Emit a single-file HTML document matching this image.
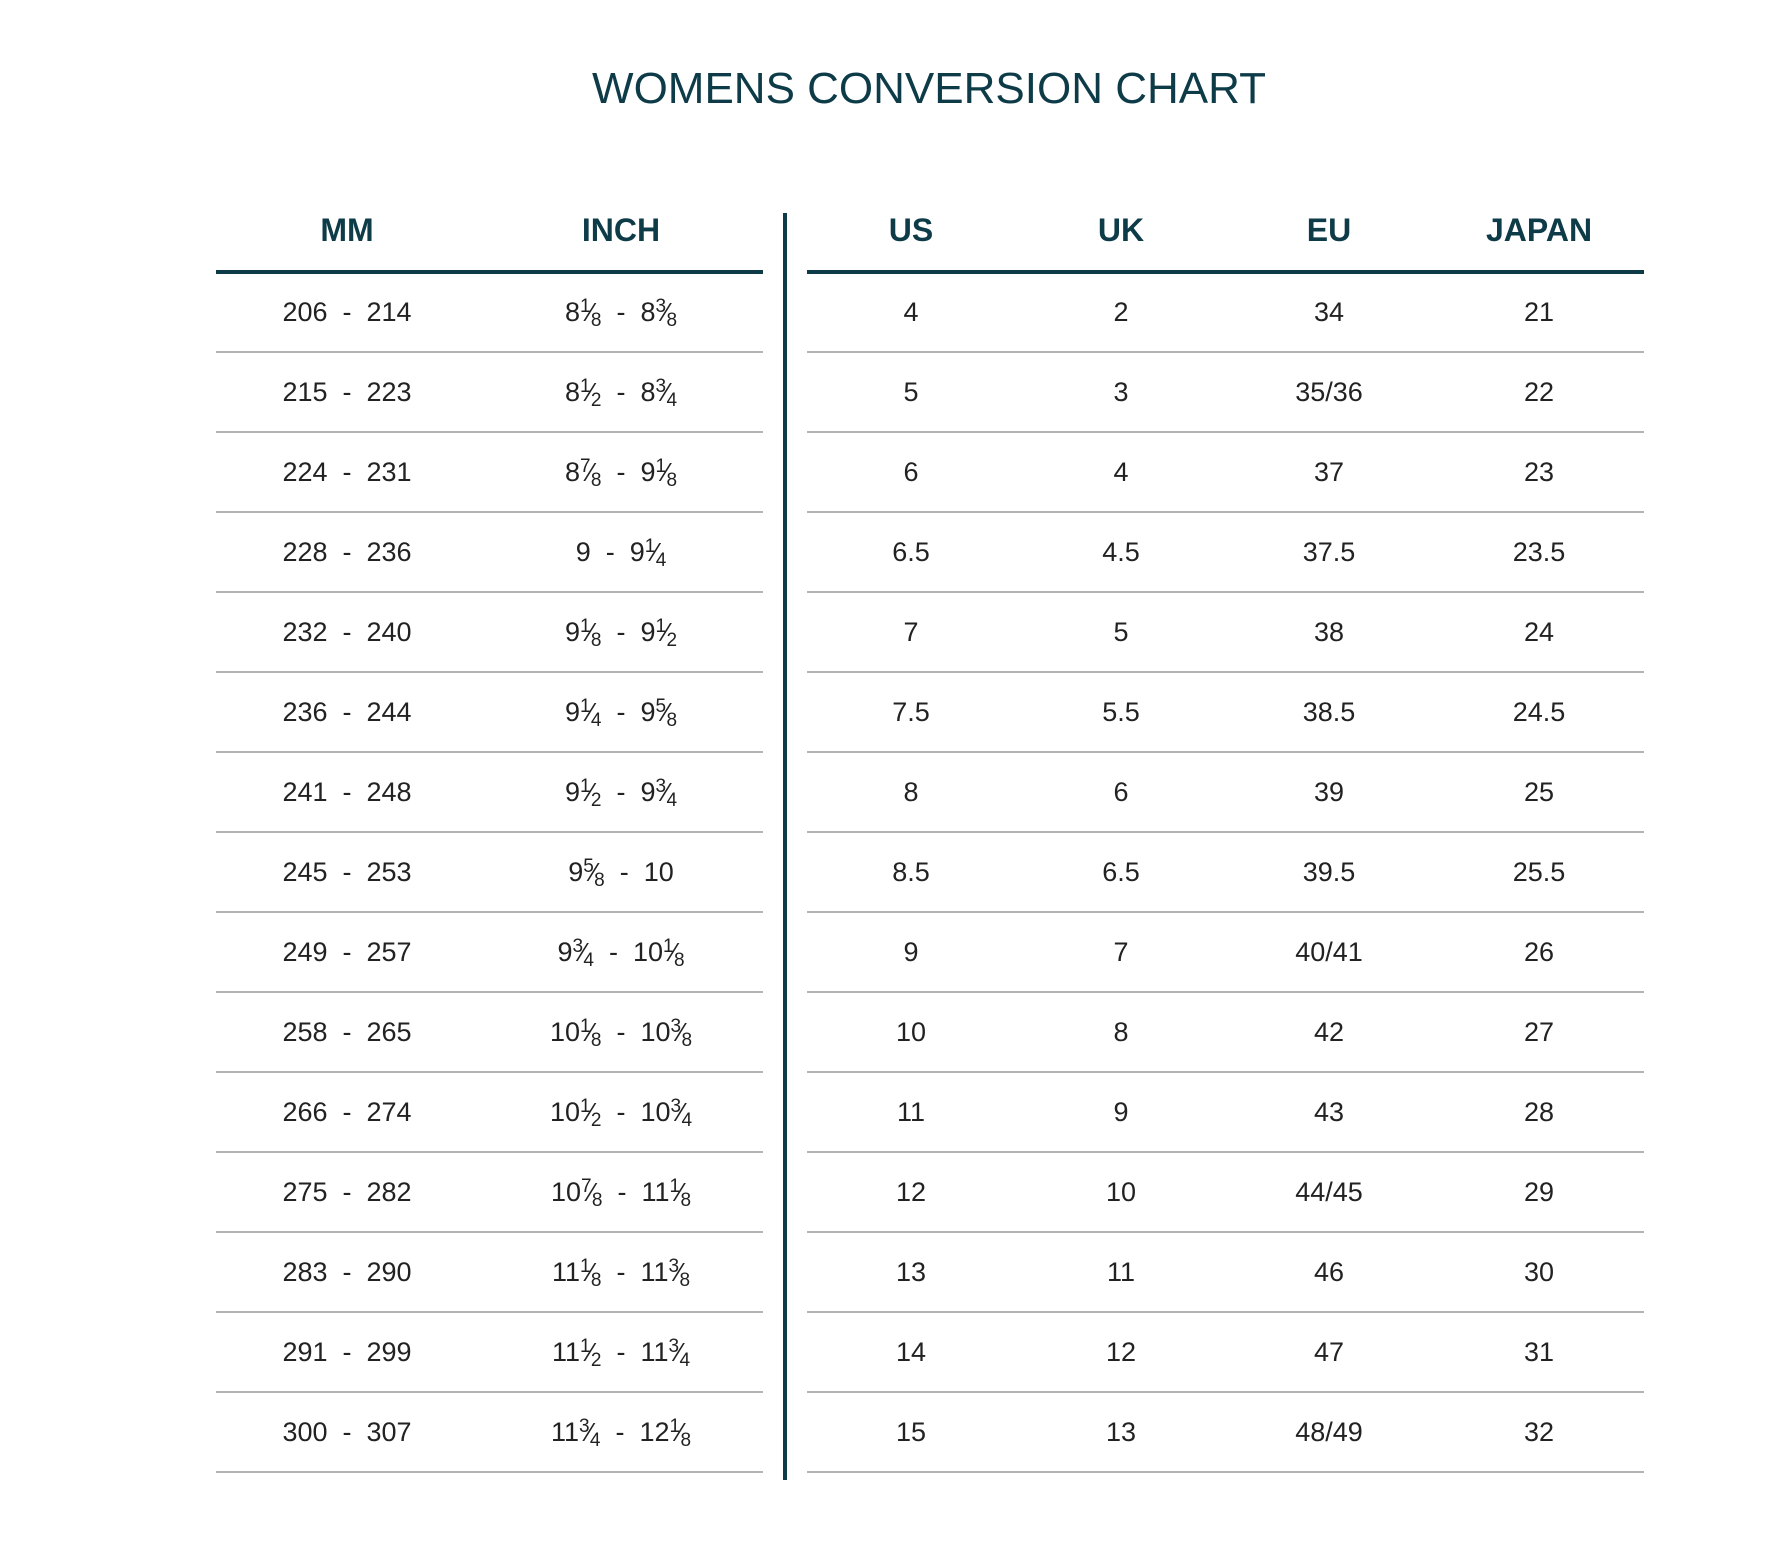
<!DOCTYPE html>
<html><head><meta charset="utf-8"><style>
body{margin:0;width:1786px;height:1548px;background:#fff;position:relative;overflow:hidden;font-family:"Liberation Sans",sans-serif}
.t{position:absolute;left:429px;width:1000px;top:64px;text-align:center;font-size:44px;color:#0d3b48;white-space:nowrap}
.h{position:absolute;top:212px;width:240px;margin-left:-120px;text-align:center;font-size:32px;font-weight:bold;color:#0d3b48}
.c{position:absolute;width:300px;margin-left:-150px;text-align:center;font-size:27px;color:#222;line-height:30px;white-space:nowrap}
.hl{position:absolute;height:4px;background:#0d3b48;top:270px}
.gl{position:absolute;height:2px;background:#b3b3b3}
.v{position:absolute;left:783px;width:4px;top:213px;height:1267px;background:#0d3b48}
sup{font-size:19px;vertical-align:9px;line-height:0}
sub{font-size:19px;vertical-align:-5px;line-height:0}
.f{font-size:26px;margin:0 -2px}
</style></head><body>
<div class="t">WOMENS CONVERSION CHART</div>
<div class="h" style="left:347px">MM</div>
<div class="h" style="left:621px">INCH</div>
<div class="h" style="left:911px">US</div>
<div class="h" style="left:1121px">UK</div>
<div class="h" style="left:1329px">EU</div>
<div class="h" style="left:1539px">JAPAN</div>
<div class="hl" style="left:216px;width:547px"></div>
<div class="hl" style="left:807px;width:837px"></div>
<div class="v"></div>
<div id="rows"></div>
<script>
var d=[["206 - 214","8|1|8 - 8|3|8","4","2","34","21"],
["215 - 223","8|1|2 - 8|3|4","5","3","35/36","22"],
["224 - 231","8|7|8 - 9|1|8","6","4","37","23"],
["228 - 236","9 - 9|1|4","6.5","4.5","37.5","23.5"],
["232 - 240","9|1|8 - 9|1|2","7","5","38","24"],
["236 - 244","9|1|4 - 9|5|8","7.5","5.5","38.5","24.5"],
["241 - 248","9|1|2 - 9|3|4","8","6","39","25"],
["245 - 253","9|5|8 - 10","8.5","6.5","39.5","25.5"],
["249 - 257","9|3|4 - 10|1|8","9","7","40/41","26"],
["258 - 265","10|1|8 - 10|3|8","10","8","42","27"],
["266 - 274","10|1|2 - 10|3|4","11","9","43","28"],
["275 - 282","10|7|8 - 11|1|8","12","10","44/45","29"],
["283 - 290","11|1|8 - 11|3|8","13","11","46","30"],
["291 - 299","11|1|2 - 11|3|4","14","12","47","31"],
["300 - 307","11|3|4 - 12|1|8","15","13","48/49","32"]];
var xs=[347,621,911,1121,1329,1539],h="";
function fr(s){return s.split(" - ").map(function(p){var a=p.split("|");return a.length==1?a[0]:a[0]+"<sup>"+a[1]+"</sup><span class='f'>⁄</span><sub>"+a[2]+"</sub>"}).join("&nbsp; - &nbsp;");}
for(var i=0;i<15;i++){var y=272+80*i;
for(var j=0;j<6;j++){var s=j==0?d[i][0].replace(" - ","&nbsp; - &nbsp;"):j==1?fr(d[i][1]):d[i][j];
h+='<div class="c" style="left:'+xs[j]+'px;top:'+(y+25)+'px">'+s+'</div>';}
h+='<div class="gl" style="left:216px;width:547px;top:'+(y+79)+'px"></div><div class="gl" style="left:807px;width:837px;top:'+(y+79)+'px"></div>';}
document.getElementById("rows").innerHTML=h;
</script>
</body></html>
